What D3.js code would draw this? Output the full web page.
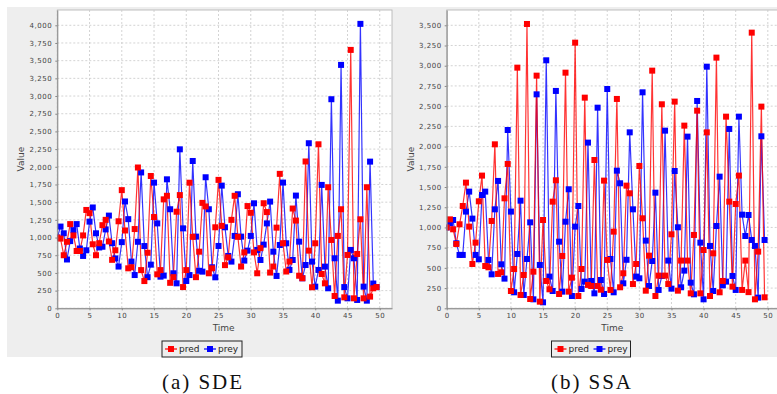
<!DOCTYPE html>
<html><head><meta charset="utf-8">
<script src="https://cdn.jsdelivr.net/npm/d3@7"></script>
<style>body{margin:0;background:#fff}svg{display:block}</style>
</head><body>
<svg id="c" width="777" height="394"></svg>
<script>
const times = [0,0.5,1,1.5,2,2.5,3,3.5,4,4.5,5,5.5,6,6.5,7,7.5,8,8.5,9,9.5,
10,10.5,11,11.5,12,12.5,13,13.5,14,14.5,15,15.5,16,16.5,17,17.5,18,18.5,19,19.5,
20,20.5,21,21.5,22,22.5,23,23.5,24,24.5,25,25.5,26,26.5,27,27.5,28,28.5,29,29.5,
30,30.5,31,31.5,32,32.5,33,33.5,34,34.5,35,35.5,36,36.5,37,37.5,38,38.5,39,39.5,
40,40.5,41,41.5,42,42.5,43,43.5,44,44.5,45,45.5,46,46.5,47,47.5,48,48.5,49,49.5];

const sdePred = [1000,985,750,940,1190,1030,810,810,1030,1390,1345,905,750,920,1175,1250,945,685,820,1230,
1670,1100,565,580,1120,1990,540,385,785,1870,1290,480,540,1540,1590,360,440,1365,1600,300,
540,1775,1010,440,800,1490,1440,495,565,1145,1815,1165,610,720,1250,1590,1010,590,790,1445,
1350,790,495,850,1485,1360,505,590,1140,1900,920,520,660,1410,1240,460,425,2075,815,297,
919,2318,485,353,1711,966,174,1023,1400,155,754,3652,141,768,1258,141,1711,165,283,300];

const sdePrey = [1000,1155,1060,690,950,1105,1190,845,740,820,1225,1425,1060,860,870,1115,1310,920,705,590,
935,1510,1260,660,470,940,1920,880,440,617,1776,1200,447,462,1823,1400,495,353,2247,1130,
386,470,2082,1013,530,518,1852,1400,580,438,881,1734,1145,740,660,1023,1612,1013,674,815,
1023,1484,825,683,900,1200,1508,800,457,895,1777,919,542,683,1593,942,424,612,2333,660,
306,542,1744,589,283,2955,707,108,3440,300,141,825,707,118,4020,306,108,2073,350,300];

const ssaPred = [1000,1100,977,795,1039,1265,1554,1010,548,812,1323,1641,523,507,1080,2028,425,445,1360,1785,
214,486,2976,165,412,3516,115,453,2877,82,1092,338,235,1319,1583,177,647,2914,206,379,
3285,152,486,2605,289,276,1834,276,230,1579,598,227,948,2589,260,433,1517,1422,300,548,
1760,1113,218,651,2939,152,404,2523,404,300,915,2556,218,590,2259,590,185,907,2444,185,
721,2176,152,680,3100,198,338,2370,1319,268,1290,1641,227,590,200,3409,111,701,2494,136];

const ssaPrey = [1000,1051,1092,804,660,660,1196,1443,1109,660,606,1401,1443,598,420,1224,1575,544,367,2205,
1196,198,672,1331,165,610,1063,111,2646,536,74,3067,392,214,2688,824,206,1071,1472,152,
1010,1265,239,330,2049,338,185,2481,350,177,2712,610,198,1702,1546,309,600,2176,1224,392,
371,2671,837,276,585,1430,227,400,2197,590,243,1698,1002,260,466,2123,317,173,2564,812,
111,2988,771,214,1018,1628,284,330,2218,400,227,2370,1158,894,1154,845,771,132,2127,845];

const xTicks = [0,5,10,15,20,25,30,35,40,45,50];
const yTicksA = [0,250,500,750,1000,1250,1500,1750,2000,2250,2500,2750,3000,3250,3500,3750,4000];
const yTicksB = [0,250,500,750,1000,1250,1500,1750,2000,2250,2500,2750,3000,3250,3500];
const seriesNames = ["pred","prey"];
const seriesColors = ["#ff0000","#0000ff"];
const captions = ["(a) SDE","(b) SSA"];

const svg = d3.select('#c');
svg.append('rect').attr('x',7).attr('y',7).attr('width',770).attr('height',350).attr('fill','#eeeeee');

const panels = [
  {pred: sdePred, prey: sdePrey, yMax: 4216, yTicks: yTicksA, left: 57.3, right: 392, cx: 202, legW: 80},
  {pred: ssaPred, prey: ssaPrey, yMax: 3689, yTicks: yTicksB, left: 446.7, right: 780, cx: 591, legW: 79}
];
const plotTop = 10, plotBottom = 308.3;

panels.forEach((p, pi) => {
  const x = d3.scaleLinear().domain([0, 51.9]).range([p.left, p.right]);
  const y = d3.scaleLinear().domain([0, p.yMax]).range([plotBottom, plotTop]);
  const g = svg.append('g');
  const clipId = 'clip' + pi;
  svg.append('clipPath').attr('id', clipId).append('rect')
    .attr('x', p.left).attr('y', plotTop).attr('width', p.right - p.left).attr('height', plotBottom - plotTop);

  g.append('rect').attr('x', p.left).attr('y', plotTop).attr('width', p.right - p.left).attr('height', plotBottom - plotTop)
    .attr('fill', '#ffffff').attr('stroke', '#b0b0b0').attr('stroke-width', 0.8);

  g.append('g').selectAll('line').data(xTicks).join('line')
    .attr('x1', d => x(d)).attr('x2', d => x(d)).attr('y1', plotTop).attr('y2', plotBottom)
    .attr('stroke', '#c8c8c8').attr('stroke-width', 0.8).attr('stroke-dasharray', '2,2');
  g.append('g').selectAll('line').data(p.yTicks).join('line')
    .attr('x1', p.left).attr('x2', p.right).attr('y1', d => y(d)).attr('y2', d => y(d))
    .attr('stroke', '#c8c8c8').attr('stroke-width', 0.8).attr('stroke-dasharray', '2,2');

  const data = [p.pred, p.prey];
  const plot = g.append('g').attr('clip-path', `url(#${clipId})`);
  const line = d3.line().x((d, i) => x(times[i])).y(d => y(d));
  [1, 0].forEach(si => {
    plot.append('path').datum(data[si]).attr('d', line).attr('fill', 'none')
      .attr('stroke', seriesColors[si]).attr('stroke-width', 1.2).attr('stroke-opacity', 0.8);
  });
  [1, 0].forEach(si => {
    plot.append('g').selectAll('rect').data(data[si]).join('rect')
      .attr('x', (d, i) => x(times[i]) - 3).attr('y', d => y(d) - 3)
      .attr('width', 6).attr('height', 6).attr('fill', seriesColors[si]);
  });

  const ya = g.append('g').attr('transform', `translate(${p.left},0)`)
    .call(d3.axisLeft(y).tickValues(p.yTicks).tickFormat(d3.format(',')).tickSize(2).tickSizeOuter(0).tickPadding(3));
  const xa = g.append('g').attr('transform', `translate(0,${plotBottom})`)
    .call(d3.axisBottom(x).tickValues(xTicks).tickSize(2).tickSizeOuter(0).tickPadding(2.5));
  [ya, xa].forEach(a => {
    a.select('.domain').attr('stroke', '#888');
    a.selectAll('.tick line').attr('stroke', '#888');
    a.selectAll('.tick text').attr('fill', '#444').style('font-family', 'DejaVu Sans')
      .style('font-size', '7px').style('letter-spacing', '0.55px');
  });

  g.append('text').attr('x', (p.left + p.right) / 2 - 1).attr('y', 331)
    .attr('text-anchor', 'middle').attr('fill', '#444')
    .style('font-family', 'DejaVu Sans').style('font-size', '9px').text('Time');
  g.append('text').attr('transform', `translate(${p.left - 36},${(plotTop + plotBottom) / 2}) rotate(-90)`)
    .attr('text-anchor', 'middle').attr('dy', '0.35em').attr('fill', '#444')
    .style('font-family', 'DejaVu Sans').style('font-size', '9px').text('Value');

  const lx = p.cx - p.legW / 2;
  const lg = g.append('g');
  lg.append('rect').attr('x', lx).attr('y', 341).attr('width', p.legW).attr('height', 16)
    .attr('fill', 'none').attr('stroke', '#222').attr('stroke-width', 1);
  const offs = [lx + 3, lx + 42];
  seriesNames.forEach((nm, si) => {
    const ox = offs[si];
    lg.append('line').attr('x1', ox).attr('x2', ox + 12).attr('y1', 349).attr('y2', 349)
      .attr('stroke', seriesColors[si]).attr('stroke-width', 1.2);
    lg.append('rect').attr('x', ox + 3).attr('y', 346).attr('width', 6).attr('height', 6).attr('fill', seriesColors[si]);
    lg.append('text').attr('x', ox + 14).attr('y', 352.2).attr('fill', '#222')
      .style('font-family', 'DejaVu Sans').style('font-size', '9px').text(nm);
  });

  svg.append('text').attr('x', p.cx - 40).attr('y', 389).attr('textLength', 80).attr('lengthAdjust', 'spacing')
    .attr('fill', '#111').style('font-family', 'Liberation Serif').style('font-size', '21px').text(captions[pi]);
});
</script>
</body></html>
